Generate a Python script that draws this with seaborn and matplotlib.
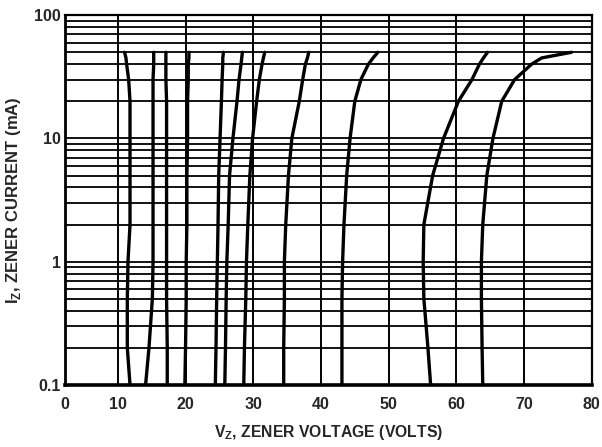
import matplotlib
matplotlib.use("Agg")
import matplotlib.pyplot as plt
import seaborn as sns
import pandas as pd
from matplotlib.ticker import LogLocator, NullFormatter, FixedLocator

currents = [0.1, 0.2, 0.5, 1, 2, 5, 10, 20, 30, 40, 45, 50]

# zener voltage (V) of each curve at those currents
v_11 = [11.8, 11.4, 11.4, 11.5, 11.8, 11.8, 11.8, 11.8, 11.6, 11.3, 11.2, 11.0]
v_15 = [14.1, 14.6, 15.1, 15.2, 15.2, 15.2, 15.2, 15.2, 15.2, 15.3, 15.3, 15.3]
v_17 = [17.3, 17.3, 17.2, 17.2, 17.2, 17.2, 17.2, 17.2, 17.1, 17.1, 17.1, 17.1]
v_20 = [19.9, 20.0, 20.1, 20.1, 20.2, 20.2, 20.3, 20.3, 20.4, 20.4, 20.5, 20.5]
v_25 = [24.4, 24.5, 24.6, 24.7, 24.8, 24.9, 25.1, 25.3, 25.4, 25.5, 25.5, 25.6]
v_27 = [25.8, 25.9, 26.0, 26.1, 26.3, 26.5, 27.0, 27.6, 27.9, 28.2, 28.3, 28.4]
v_30 = [28.6, 28.7, 28.9, 29.0, 29.2, 29.5, 29.9, 30.5, 30.9, 31.3, 31.5, 31.7]
v_36 = [34.5, 34.5, 34.6, 34.6, 34.8, 35.2, 35.7, 36.8, 37.3, 37.7, 38.0, 38.2]
v_45 = [43.1, 43.1, 43.1, 43.2, 43.4, 43.8, 44.3, 45.0, 45.9, 47.0, 47.7, 48.4]
v_58 = [56.2, 55.8, 55.2, 55.1, 55.2, 56.5, 58.1, 60.3, 62.3, 63.4, 64.0, 64.6]
v_66 = [63.9, 63.8, 63.7, 63.7, 63.9, 64.5, 65.4, 66.7, 68.6, 71.1, 72.6, 77.0]

curves = [v_11, v_15, v_17, v_20, v_25, v_27, v_30, v_36, v_45, v_58, v_66]

x_ticks = [10, 20, 30, 40, 50, 60, 70, 80]
x_left = 2.2  # reference axis starts a bit right of 0 but is labelled "0"
y_ticks = [0.1, 1, 10, 100]
y_labels = ["0.1", "1", "10", "100"]

rows = []
for k, vs in enumerate(curves):
    for i, v in zip(currents, vs):
        rows.append({"curve": k, "V": v, "I": i})
df = pd.DataFrame(rows)

sns.set_style("white")
plt.rcParams["font.family"] = ["Liberation Sans", "DejaVu Sans"]
plt.rcParams["font.weight"] = "bold"
plt.rcParams["mathtext.fontset"] = "custom"
plt.rcParams["mathtext.bf"] = "Liberation Sans:bold"
plt.rcParams["mathtext.rm"] = "Liberation Sans:bold"

fig = plt.figure(figsize=(6.02, 4.47), dpi=100)
ax = fig.add_axes([0.108, 0.139, 0.875, 0.827])

ax.set_yscale("log")
sns.lineplot(data=df, x="V", y="I", units="curve", estimator=None,
             orient="y", color="black", linewidth=2.4, ax=ax, legend=False)

ax.set_xlim(x_left, 80)
ax.set_ylim(0.1, 100)

ax.xaxis.set_major_locator(FixedLocator([x_left] + x_ticks))
ax.set_xticklabels(["0"] + [str(t) for t in x_ticks], fontsize=11.5, fontweight="bold")
ax.set_yticks(y_ticks)
ax.set_yticklabels(y_labels, fontsize=11.5, fontweight="bold")
ax.yaxis.set_minor_locator(LogLocator(base=10, subs=range(2, 10)))
ax.yaxis.set_minor_formatter(NullFormatter())
ax.tick_params(axis="both", which="both", length=0)
ax.tick_params(axis="x", pad=9)
ax.tick_params(axis="y", pad=3)

ax.grid(True, axis="y", which="both", color="black", linewidth=1.3)
for t in x_ticks[:-1]:
    ax.axvline(t, color="black", linewidth=1.4, zorder=1)

for s in ax.spines.values():
    s.set_visible(True)
    s.set_color("black")
    s.set_linewidth(1.6)
ax.spines["bottom"].set_linewidth(2.6)
ax.spines["left"].set_linewidth(2.0)

ax.set_xlabel(r"V$_\mathbf{Z}$, ZENER VOLTAGE (VOLTS)", fontsize=11.3, fontweight="bold", labelpad=8)
ax.set_ylabel(r"I$_\mathbf{Z}$, ZENER CURRENT (mA)", fontsize=12, fontweight="bold", labelpad=8)

fig.savefig("out.png", dpi=100)
